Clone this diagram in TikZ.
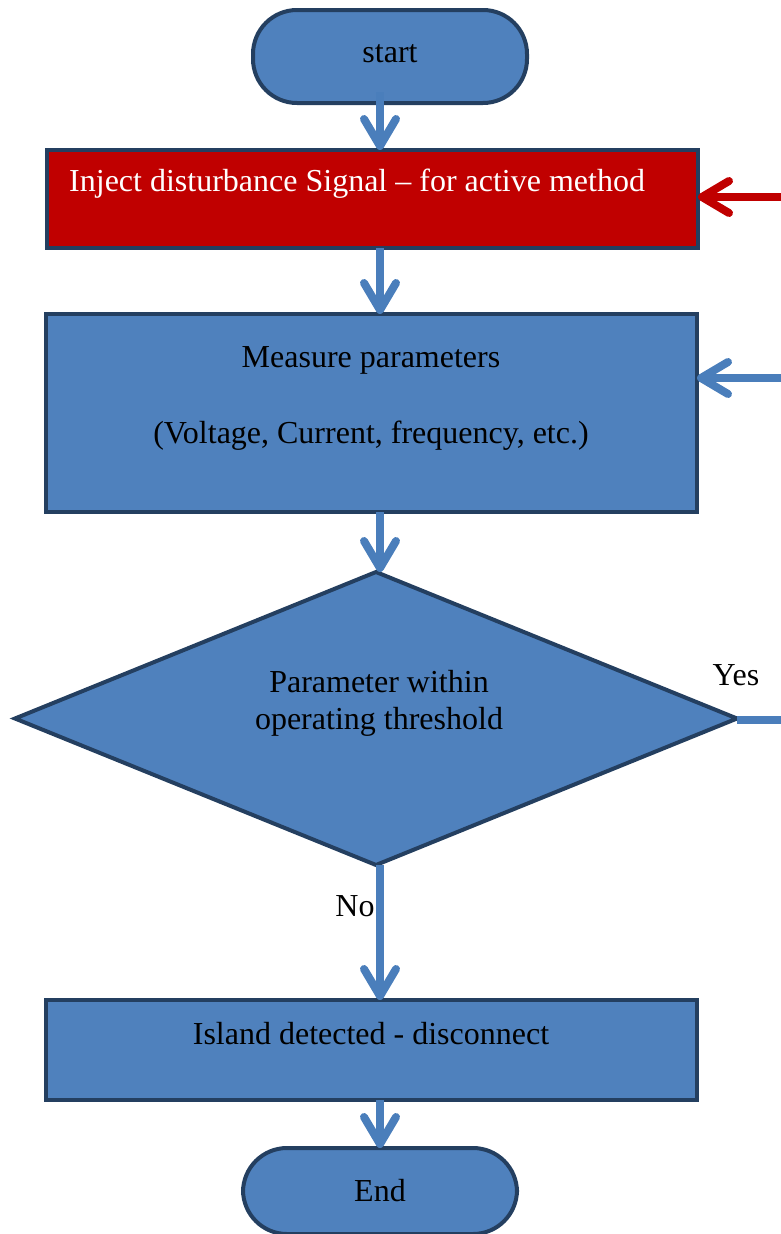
\documentclass[tikz,border=0pt]{standalone}
\usepackage{fontspec}
\setmainfont{Liberation Serif}
\usetikzlibrary{shapes.geometric,arrows.meta}
\definecolor{boxfill}{HTML}{4F81BD}
\definecolor{boxline}{HTML}{243F60}
\definecolor{flow}{HTML}{4A7EBB}
\definecolor{alarm}{HTML}{C00000}
\begin{document}
\begin{tikzpicture}[x=1pt,y=-1pt,
  every node/.style={font=\fontsize{32}{37}\selectfont},
  shapebase/.style={draw=boxline, line width=4pt, inner sep=0pt, outer sep=0pt},
  procbox/.style={shapebase, rectangle, fill=boxfill},
  alarmbox/.style={shapebase, rectangle, fill=alarm},
  terminal/.style={shapebase, rectangle, fill=boxfill, rounded corners=44pt},
  decision/.style={shapebase, diamond, fill=boxfill, aspect=2.46},
  flowline/.style={draw=flow, line width=8pt},
  flowarrow/.style={flowline, -{Straight Barb[length=27pt,width=32pt,round]}},
  alarmarrow/.style={draw=alarm, line width=8pt, -{Straight Barb[length=27pt,width=32pt,round]}},
  lbl/.style={text=black, inner sep=0pt, align=center}]
\useasboundingbox (0,0) rectangle (780,1234);

% shapes
\node[terminal, minimum width=274pt, minimum height=93pt] (start) at (390,56.5) {};
\node[alarmbox, minimum width=651pt, minimum height=98pt] (inject) at (372.5,199) {};
\node[procbox, minimum width=651pt, minimum height=198pt] (measure) at (371.5,413) {};
\node[decision, minimum width=722pt, minimum height=293pt] (check) at (376,718.5) {};
\node[procbox, minimum width=651pt, minimum height=100pt] (island) at (371.5,1050) {};
\node[terminal, minimum width=274pt, minimum height=86pt] (finish) at (380,1191) {};

% texts
\node[lbl] (startText) at (390,54) {start};
\node[lbl, text=white, anchor=west] (injectText) at (69,184) {Inject disturbance Signal -- for active method};
\node[lbl] (measureText) at (371,360) {Measure parameters};
\node[lbl] (measureText2) at (371,436) {(Voltage, Current, frequency, etc.)};
\node[lbl] (checkText) at (379,703) {Parameter within\\operating threshold};
\node[lbl] (islandText) at (371,1034) {Island detected - disconnect};
\node[lbl] (finishText) at (380,1191) {End};
\node[lbl] (yesText) at (736,675) {Yes};
\node[lbl] (noText) at (355,906) {No};

% vertical flow axis and feedback entries
\coordinate (axis) at (380,0);
\coordinate (feedRed) at (784,197);
\coordinate (feedBlue) at (784,378);
\coordinate (yesEnd) at (784,720);

% connectors
\draw[flowarrow] ([yshift=11pt]start.south -| axis) -- (inject.north -| axis);
\draw[flowarrow] (inject.south -| axis) -- (measure.north -| axis);
\draw[flowarrow] (measure.south -| axis) -- (check.north -| axis);
\draw[flowarrow] (check.south -| axis) -- (island.north -| axis);
\draw[flowarrow] (island.south -| axis) -- (finish.north -| axis);
\draw[alarmarrow] (feedRed) -- (feedRed -| inject.east);
\draw[flowarrow] (feedBlue) -- (feedBlue -| measure.east);
\draw[flowline] (check.east |- yesEnd) -- (yesEnd);
\end{tikzpicture}
\end{document}
